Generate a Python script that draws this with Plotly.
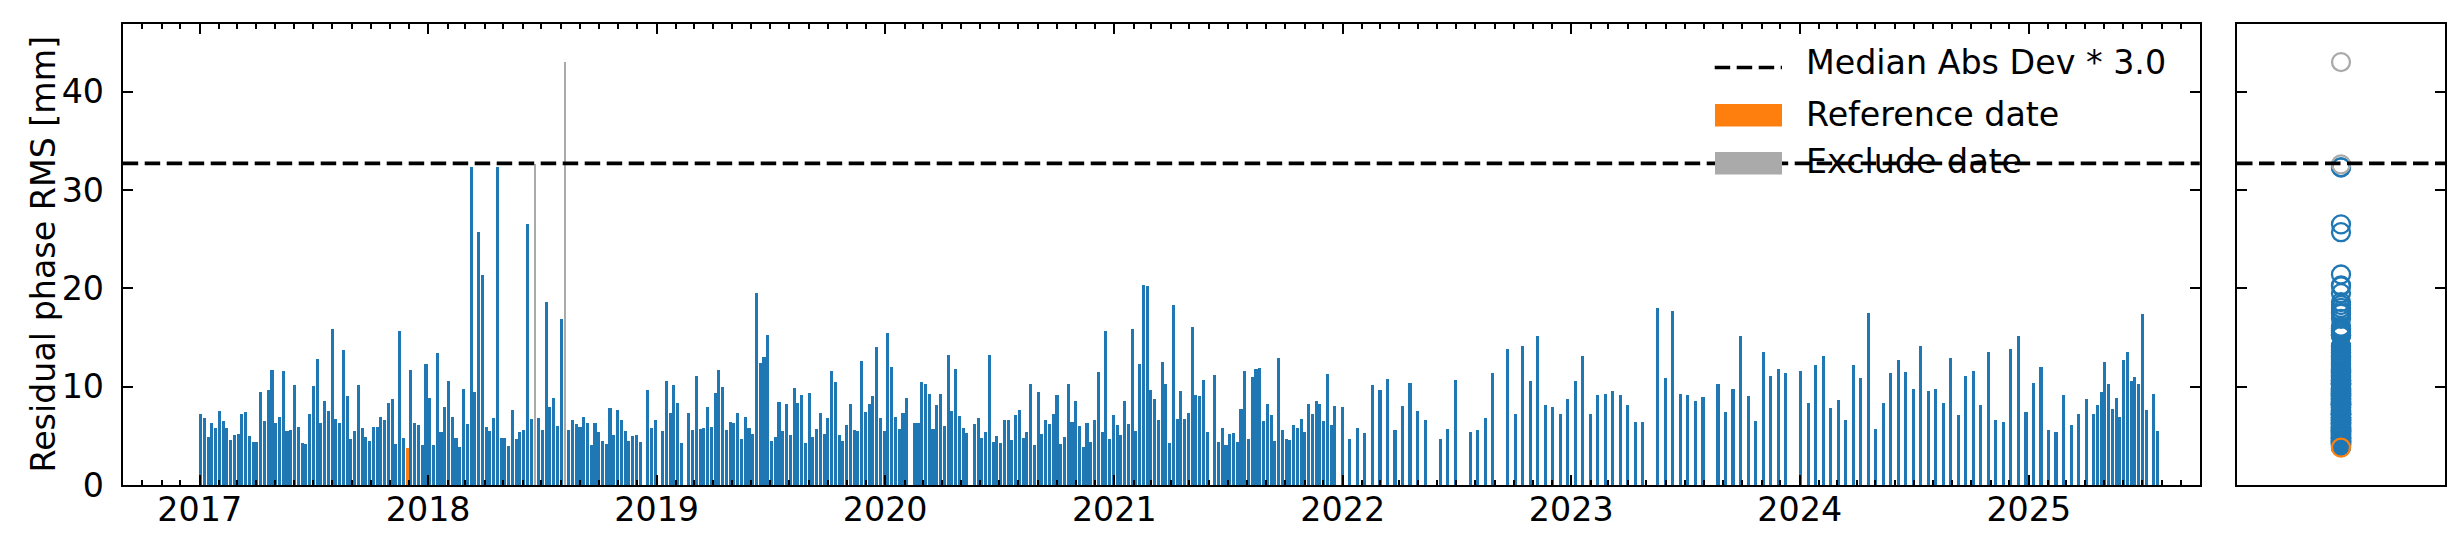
import pandas as pd
import plotly.graph_objects as go

W, H = 2461, 545
FONT = "DejaVu Sans"
FS = 33.3

# Acquisition calendar: (first date, number of acquisitions, revisit days)
segments = [
    ("2017-01-02", 118, 6), ("2018-12-17", 3, 6), ("2019-01-10", 6, 6), ("2019-02-21", 59, 6),
    ("2020-02-16", 15, 6), ("2020-05-22", 63, 6), ("2021-06-10", 33, 6),
    ("2021-12-31", 12, 12), ("2022-06-05", 3, 12), ("2022-07-23", 4, 12), ("2022-09-21", 19, 12),
    ("2023-05-19", 7, 12), ("2023-08-23", 10, 12), ("2024-01-02", 39, 12),
    ("2025-04-14", 15, 6), ("2025-07-19", 2, 6),
]

# Residual phase RMS [mm], one value per acquisition, in date order
rms_values = [
    7.2, 6.8, 4.9, 6.3, 5.8, 7.5, 6.5, 5.8, 4.6, 5.1,
    5.2, 7.2, 7.4, 5.0, 4.4, 4.4, 9.5, 6.5, 9.7, 11.7,
    6.3, 6.9, 11.6, 5.5, 5.6, 10.2, 5.9, 4.3, 4.2, 7.2,
    10.1, 12.8, 6.3, 8.5, 7.5, 15.9, 6.7, 6.3, 13.7, 9.0,
    4.7, 5.5, 10.2, 5.8, 4.9, 4.5, 5.9, 5.9, 6.9, 6.6,
    8.3, 8.7, 4.2, 15.7, 4.8, 3.8, 11.7, 6.3, 6.1, 4.1,
    12.3, 8.8, 4.1, 13.4, 5.4, 7.9, 10.6, 6.9, 4.8, 3.9,
    9.8, 6.2, 32.3, 9.5, 25.7, 21.4, 5.9, 5.5, 6.8, 32.3,
    4.8, 4.8, 4.0, 7.6, 4.7, 5.4, 5.6, 26.5, 6.7, 32.6,
    6.8, 5.6, 18.6, 7.9, 8.8, 6.0, 16.9, 43.0, 5.6, 6.6,
    6.2, 5.9, 6.9, 6.3, 4.1, 6.3, 5.4, 4.5, 4.2, 7.8,
    5.1, 7.6, 6.6, 5.5, 4.5, 5.0, 5.1, 4.4,
    9.7, 5.8, 6.6,
    5.5, 10.6, 7.3, 10.2, 8.3, 4.3,
    7.3, 5.6, 11.1, 5.7, 5.8, 7.9, 5.9, 9.4, 11.7, 10.0,
    5.6, 6.4, 6.3, 7.3, 4.7, 6.9, 5.8, 5.2, 19.5, 12.4,
    13.0, 15.3, 4.5, 4.9, 8.4, 5.5, 8.2, 5.1, 9.9, 8.3,
    9.1, 4.3, 9.4, 4.9, 5.7, 7.3, 5.2, 6.8, 11.6, 10.5,
    5.1, 4.5, 6.1, 8.2, 5.6, 5.5, 12.6, 7.4, 8.2, 9.0,
    14.0, 6.8, 5.5, 15.5, 12.0, 6.9, 5.7, 7.3, 8.8,
    6.3, 6.3, 10.5, 10.3, 9.3, 5.7, 8.1, 9.3, 6.0, 13.2, 7.5, 11.8, 7.0, 5.8, 5.3,
    6.2, 6.8, 4.8, 5.4, 13.2, 4.4, 5.0, 4.3, 6.6, 6.6,
    4.6, 7.1, 7.6, 4.8, 5.4, 10.3, 4.1, 9.5, 5.2, 6.6,
    6.2, 7.2, 9.2, 4.2, 4.9, 10.3, 6.4, 8.5, 6.0, 3.9,
    6.3, 4.4, 6.6, 11.5, 5.4, 15.7, 4.7, 7.1, 6.1, 5.1,
    8.5, 6.2, 15.9, 5.5, 12.3, 20.3, 20.2, 9.7, 8.7, 6.6,
    12.5, 10.3, 4.3, 18.3, 6.7, 9.6, 6.7, 7.3, 16.1, 9.1,
    9.0, 10.7, 5.4,
    11.2, 4.4, 5.8, 4.1, 5.2, 5.3, 4.4, 7.7, 11.6, 4.7,
    11.0, 11.8, 11.9, 6.5, 8.2, 7.1, 4.5, 12.9, 5.6, 4.7,
    4.6, 6.1, 5.8, 6.7, 5.4, 8.2, 7.2, 8.5, 8.2, 6.5,
    11.3, 6.1, 8.0,
    7.9, 4.7, 5.8, 5.3, 10.2, 9.7, 10.8, 5.6, 8.0, 10.4, 7.5, 6.6,
    4.7, 5.7, 10.7,
    5.4, 5.6, 6.8, 11.4,
    13.8, 7.2, 14.1, 10.6, 15.2, 8.1, 7.9, 7.2, 8.7, 10.6,
    13.1, 7.2, 9.2, 9.3, 9.6, 9.1, 8.1, 6.4, 6.4,
    18.0, 10.9, 17.7, 9.3, 9.2, 8.5, 8.9,
    10.3, 7.4, 9.8, 15.2, 9.0, 6.5, 13.5, 11.1, 11.8, 11.4,
    11.6, 8.3, 12.2, 13.1, 7.8, 8.6, 6.6, 12.2, 10.9, 17.5,
    5.7, 8.3, 11.4, 12.7, 11.5, 9.8, 14.1, 9.6, 9.8, 8.3,
    12.9, 7.1, 11.1, 11.6, 8.1, 13.5, 6.6, 6.4, 13.8, 15.2,
    7.4, 10.4, 12.0, 5.6, 5.4, 9.2, 6.1, 7.2, 8.7,
    7.2, 8.1, 9.5, 12.5, 10.3, 7.7, 8.8, 6.9, 12.7, 13.5, 10.6, 11.0, 10.3, 17.4, 7.6,
    9.3, 5.5,
]

reference_date = "2017-11-28"
exclude_dates = ["2018-06-20", "2018-08-07"]
mad_threshold = 32.7
y_max = 46.87
year_tick0 = "2017-01-01"
y_ticks = [0, 10, 20, 30, 40]

legend_labels = ["Median Abs Dev * 3.0", "Reference date", "Exclude date"]

BLUE, ORANGE, GREY = "#1f77b4", "#ff7f0e", "#aaaaaa"

# ---- build table ----
dates = []
for start, n, step in segments:
    dates.extend(pd.date_range(start, periods=n, freq=f"{step}D"))
df = pd.DataFrame({"date": dates, "rms": rms_values})
is_ref = df["date"] == pd.Timestamp(reference_date)
is_exc = df["date"].isin(pd.to_datetime(exclude_dates))
normal = df[~is_ref & ~is_exc]
ref = df[is_ref]
exc = df[is_exc]

DAY = 86400000

# ---- geometry (pixels) ----
def px_x(p):
    return p / W

def px_y(p):
    return 1 - p / H

AX_TOP, AX_BOT = 16.0, 477.0
main_dom = [px_x(114.7), px_x(2191.7)]
side_dom = [px_x(2229.0), px_x(2437.0)]
y_dom = [px_y(AX_BOT), px_y(AX_TOP)]

fig = go.Figure()
fig.add_trace(go.Bar(x=normal["date"], y=normal["rms"], width=4.9 * DAY,
                     marker=dict(color=BLUE, line=dict(width=0)), xaxis="x", yaxis="y"))
fig.add_trace(go.Bar(x=ref["date"], y=ref["rms"], width=4.9 * DAY,
                     marker=dict(color=ORANGE, line=dict(width=0)), xaxis="x", yaxis="y"))
fig.add_trace(go.Bar(x=exc["date"], y=exc["rms"], width=3.4 * DAY,
                     marker=dict(color=GREY, line=dict(width=0)), xaxis="x", yaxis="y"))

for sub, col in ((normal, BLUE), (ref, ORANGE), (exc, GREY)):
    fig.add_trace(go.Scatter(x=[0] * len(sub), y=sub["rms"], mode="markers",
                             marker=dict(symbol="circle-open", size=18, color=col,
                                         line=dict(width=2.3, color=col)),
                             xaxis="x2", yaxis="y2"))

tickfont = dict(family=FONT, size=FS, color="black")
fig.update_layout(
    width=W, height=H, autosize=False,
    margin=dict(l=0, r=0, t=0, b=0),
    paper_bgcolor="white", plot_bgcolor="white",
    barmode="overlay", bargap=0, showlegend=False,
    font=dict(family=FONT, size=FS, color="black"),
    xaxis=dict(domain=main_dom, anchor="y", type="date",
               range=["2016-08-31", "2025-10-01"],
               tickmode="linear", tick0=year_tick0, dtick="M12", tickformat="%Y",
               ticks="inside", ticklen=10, tickwidth=2, tickcolor="black",
               showline=True, linewidth=2, linecolor="black", mirror="ticks",
               showgrid=False, zeroline=False, automargin=False,
               tickfont=tickfont, ticklabelstandoff=-6,
               minor=dict(dtick="M1", tick0=year_tick0, ticks="inside", ticklen=5,
                          tickwidth=1.5, tickcolor="black", showgrid=False)),
    yaxis=dict(domain=y_dom, anchor="x", range=[0, y_max], tickmode="array", tickvals=y_ticks,
               ticks="inside", ticklen=10, tickwidth=2, tickcolor="black",
               showline=True, linewidth=2, linecolor="black", mirror="ticks",
               showgrid=False, zeroline=False, automargin=False,
               tickfont=tickfont, ticklabelstandoff=10),
    xaxis2=dict(domain=side_dom, anchor="y2", range=[-1, 1], showticklabels=False,
                ticks="", showline=True, linewidth=2, linecolor="black", mirror=True,
                showgrid=False, zeroline=False, automargin=False),
    yaxis2=dict(domain=y_dom, anchor="x2", matches="y", range=[0, y_max],
                tickmode="array", tickvals=y_ticks, showticklabels=False,
                ticks="inside", ticklen=10, tickwidth=2, tickcolor="black",
                showline=True, linewidth=2, linecolor="black", mirror="ticks",
                showgrid=False, zeroline=False, automargin=False),
)

dash = "15.5px,6.5px"
shapes = [
    dict(type="line", xref="x domain", yref="y", x0=0, x1=1, y0=mad_threshold, y1=mad_threshold,
         line=dict(color="black", width=3.7, dash=dash), layer="above"),
    dict(type="line", xref="x2 domain", yref="y2", x0=0, x1=1, y0=mad_threshold, y1=mad_threshold,
         line=dict(color="black", width=3.7, dash=dash), layer="above"),
    # legend samples
    dict(type="line", xref="paper", yref="paper", x0=px_x(1706.7), x1=px_x(1774), y0=px_y(59.5), y1=px_y(59.5),
         line=dict(color="black", width=3.7, dash=dash), layer="above"),
    dict(type="rect", xref="paper", yref="paper", x0=px_x(1707), x1=px_x(1774), y0=px_y(118.5), y1=px_y(96.0),
         fillcolor=ORANGE, line=dict(width=0), layer="above"),
    dict(type="rect", xref="paper", yref="paper", x0=px_x(1707), x1=px_x(1774), y0=px_y(166.5), y1=px_y(144.0),
         fillcolor=GREY, line=dict(width=0), layer="above"),
]
fig.update_layout(shapes=shapes)

annotations = []
for label, yc in zip(legend_labels, [54.5, 106.0, 153.5]):
    annotations.append(dict(text=label, xref="paper", yref="paper", x=px_x(1796), y=px_y(yc),
                            xanchor="left", yanchor="middle", showarrow=False,
                            font=dict(family=FONT, size=FS, color="black")))
annotations.append(dict(text="Residual phase RMS [mm]", xref="paper", yref="paper",
                        x=px_x(35), y=px_y((AX_TOP + AX_BOT) / 2), xanchor="center", yanchor="middle",
                        textangle=-90, showarrow=False,
                        font=dict(family=FONT, size=FS, color="black")))
fig.update_layout(annotations=annotations)

fig.write_html("out.html")
